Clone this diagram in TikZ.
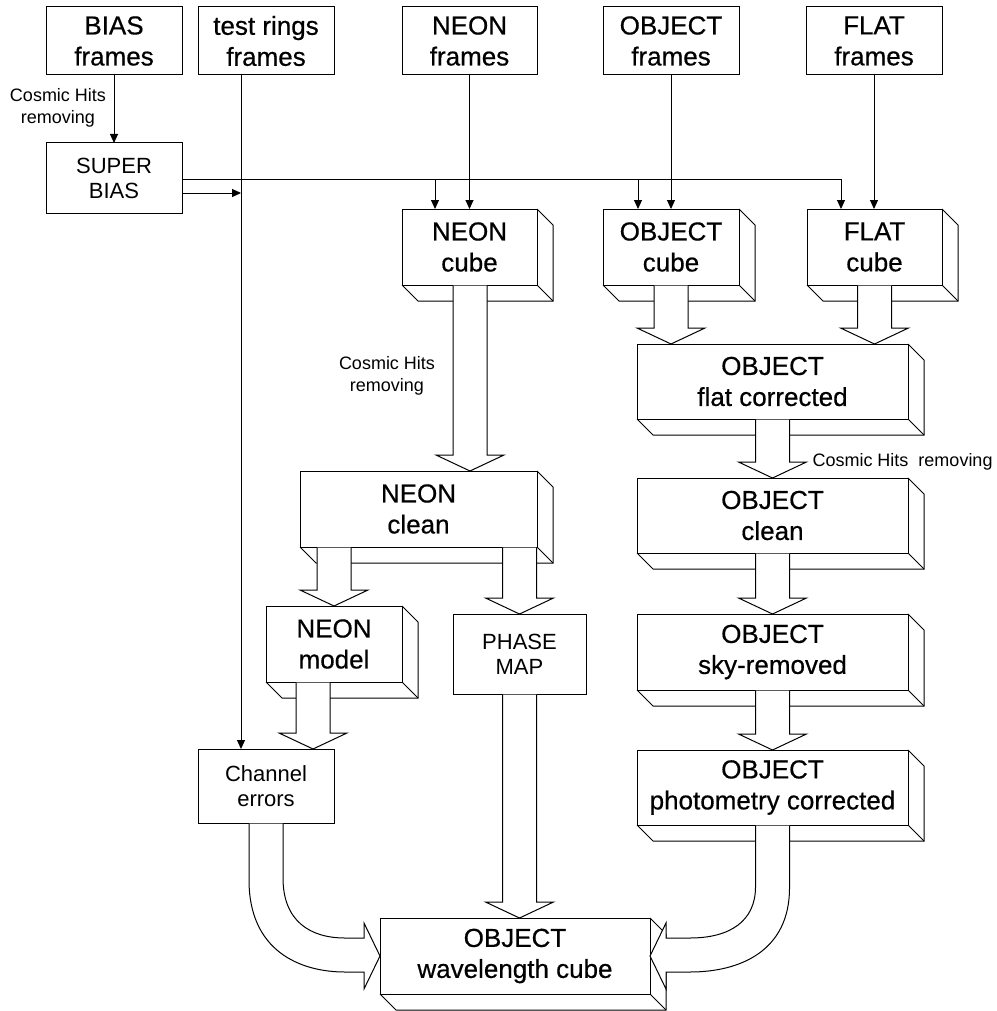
\documentclass[tikz,border=0pt]{standalone}
\usepackage{fontspec}
\setmainfont{Liberation Sans}
\newfontfamily\heavyfont{Liberation Sans}[FakeBold=0.5]
\usetikzlibrary{arrows.meta,calc}
\newcommand\extrude[1]{%
  \draw (#1.south west) -- ++(16,16) -| ($(#1.north east)+(16,16)$) -- (#1.north east);
  \draw (#1.south east) -- ++(16,16);}
\newcommand\barrow[2]{%
  \draw[fill=white] let \p1=#1, \p2=#2 in
   (\x1-17pt,\y1-0.5pt) -- (\x1-17pt,\y2+16pt) -- (\x1-34pt,\y2+16pt) -- (\x1,\y2)
   -- (\x1+34pt,\y2+16pt) -- (\x1+17pt,\y2+16pt) -- (\x1+17pt,\y1-0.5pt);}
\begin{document}
\begin{tikzpicture}[x=1pt,y=-1pt,line width=1pt,
  bigtxt/.style={font=\heavyfont\fontsize{26}{31}\selectfont},
  lighttxt/.style={font=\fontsize{22}{25}\selectfont},
  lbltxt/.style={font=\fontsize{18}{21.5}\selectfont,align=center,inner sep=0pt},
  box/.style={draw,fill=white,inner sep=0pt,outer sep=0pt,align=center,minimum width=#1},
  arr/.style={-{Triangle[length=9pt,width=8pt]}}]
\useasboundingbox (0,0) rectangle (996,1011);

% top frame boxes
\node[box=136pt,minimum height=68pt,bigtxt] (bias) at (114,41) {BIAS\\frames};
\node[box=136pt,minimum height=68pt,bigtxt] (trings) at (266,41) {test rings\\frames};
\node[box=135pt,minimum height=68pt,bigtxt] (nframes) at (469.5,41) {NEON\\frames};
\node[box=136pt,minimum height=68pt,bigtxt] (oframes) at (671,41) {OBJECT\\frames};
\node[box=136pt,minimum height=68pt,bigtxt] (fframes) at (874,41) {FLAT\\frames};

% flat boxes with light text
\node[box=136pt,minimum height=70pt,lighttxt] (sbias) at (114,178) {SUPER\\BIAS};
\node[box=133pt,minimum height=80pt,lighttxt] (phase) at (519.5,654) {PHASE\\MAP};
\node[box=136pt,minimum height=74pt,lighttxt] (chan) at (266,786) {Channel\\errors};

% 3D boxes
\node[box=135pt,minimum height=76pt,bigtxt] (ncube) at (469.5,247) {NEON\\cube};
\node[box=136pt,minimum height=76pt,bigtxt] (ocube) at (671,247) {OBJECT\\cube};
\node[box=135pt,minimum height=76pt,bigtxt] (fcube) at (874.5,247) {FLAT\\cube};
\node[box=271pt,minimum height=75pt,bigtxt] (ofc) at (772.5,381.5) {OBJECT\\flat corrected};
\node[box=271pt,minimum height=75pt,bigtxt] (oclean) at (772.5,515.5) {OBJECT\\clean};
\node[box=271pt,minimum height=76pt,bigtxt] (osky) at (772.5,652) {OBJECT\\sky-removed};
\node[box=271pt,minimum height=75pt,bigtxt] (ophot) at (772.5,787.5) {OBJECT\\photometry corrected};
\node[box=237pt,minimum height=76pt,bigtxt] (nclean) at (418.5,509) {NEON\\clean};
\node[box=136pt,minimum height=76pt,bigtxt] (nmodel) at (334,644) {NEON\\model};
\node[box=270pt,minimum height=76pt,bigtxt] (wave) at (515,956) {OBJECT\\wavelength cube};
\foreach \b in {ncube,ocube,fcube,ofc,oclean,osky,ophot,nclean,nmodel,wave} {\extrude{\b}}

% labels
\node[lbltxt] (cos1) at (58,108) {Cosmic Hits\\removing};
\node[lbltxt] (cos2) at (387,376) {Cosmic Hits\\removing};
\node[lbltxt,anchor=west] (cos3) at (812,462) {Cosmic Hits\ \ removing};

% thin connectors
\draw[arr] (bias.south) -- (sbias.north);
\draw[arr] (nframes.south) -- (nframes.south |- ncube.north);
\draw[arr] (oframes.south) -- (oframes.south |- ocube.north);
\draw[arr] (fframes.south) -- (fframes.south |- fcube.north);
\coordinate (trl) at ($(trings.south west)+(43,0)$);
\draw[arr] (trl) -- (trl |- chan.north);
\coordinate (sb1) at ($(sbias.east)+(0,2)$);
\coordinate (sb2) at ($(sbias.east)+(0,15)$);
\coordinate (ndrop) at ($(ncube.north west)+(33,0)$);
\coordinate (odrop) at ($(ocube.north west)+(35,0)$);
\coordinate (fdrop) at ($(fcube.north west)+(34,0)$);
\draw[arr] (sb1) -| (fdrop);
\draw[arr] (sb1 -| ndrop) -- (ndrop);
\draw[arr] (sb1 -| odrop) -- (odrop);
\draw[arr] (sb2) -- (sb2 -| trl);

% block arrows
\barrow{($(ncube.south)+(0.5,0)$)}{(nclean.north)}
\barrow{(ocube.south)}{(ofc.north)}
\barrow{(fcube.south)}{(ofc.north)}
\barrow{(ofc.south)}{(oclean.north)}
\barrow{(oclean.south)}{(osky.north)}
\barrow{(osky.south)}{(ophot.north)}
\barrow{(nclean.south -| nmodel.north)}{(nmodel.north)}
\barrow{(nclean.south -| phase.north)}{(phase.north)}
\barrow{($(nmodel.south west)+(47,0)$)}{(chan.north)}
\barrow{(phase.south)}{(wave.north)}

% curved block arrows
\draw[fill=white] let \p1=(chan.south), \p2=(wave.west) in
  (\x1-17pt,\y1-0.5pt) -- (\x1-17pt,\y1-57pt)
  .. controls (\x1-17pt,\y2+5pt) and (\x2-80pt,\y2-16pt) .. (\x2-35pt,\y2-16pt)
  -- (\x2-16pt,\y2-16pt) -- (\x2-16pt,\y2-33pt) -- (\x2,\y2)
  -- (\x2-16pt,\y2+33pt) -- (\x2-16pt,\y2+18pt) -- (\x2-35pt,\y2+18pt)
  .. controls (\x2-70pt,\y2+18pt) and (\x1+17pt,\y2+35pt) .. (\x1+17pt,\y1-55pt)
  -- (\x1+17pt,\y1-0.5pt);
\draw[fill=white] let \p1=(ophot.south), \p2=(wave.east) in
  (\x1+17pt,\y1-0.5pt) -- (\x1+17pt,\y1-63pt)
  .. controls (\x1+17pt,\y2+5pt) and (\x2+90pt,\y2-16pt) .. (\x2+40pt,\y2-16pt)
  -- (\x2+16pt,\y2-16pt) -- (\x2+16pt,\y2-33pt) -- (\x2,\y2)
  -- (\x2+16pt,\y2+33pt) -- (\x2+16pt,\y2+18pt) -- (\x2+40pt,\y2+18pt)
  .. controls (\x2+80pt,\y2+18pt) and (\x1-17pt,\y2+35pt) .. (\x1-17pt,\y1-62pt)
  -- (\x1-17pt,\y1-0.5pt);
\end{tikzpicture}
\end{document}
